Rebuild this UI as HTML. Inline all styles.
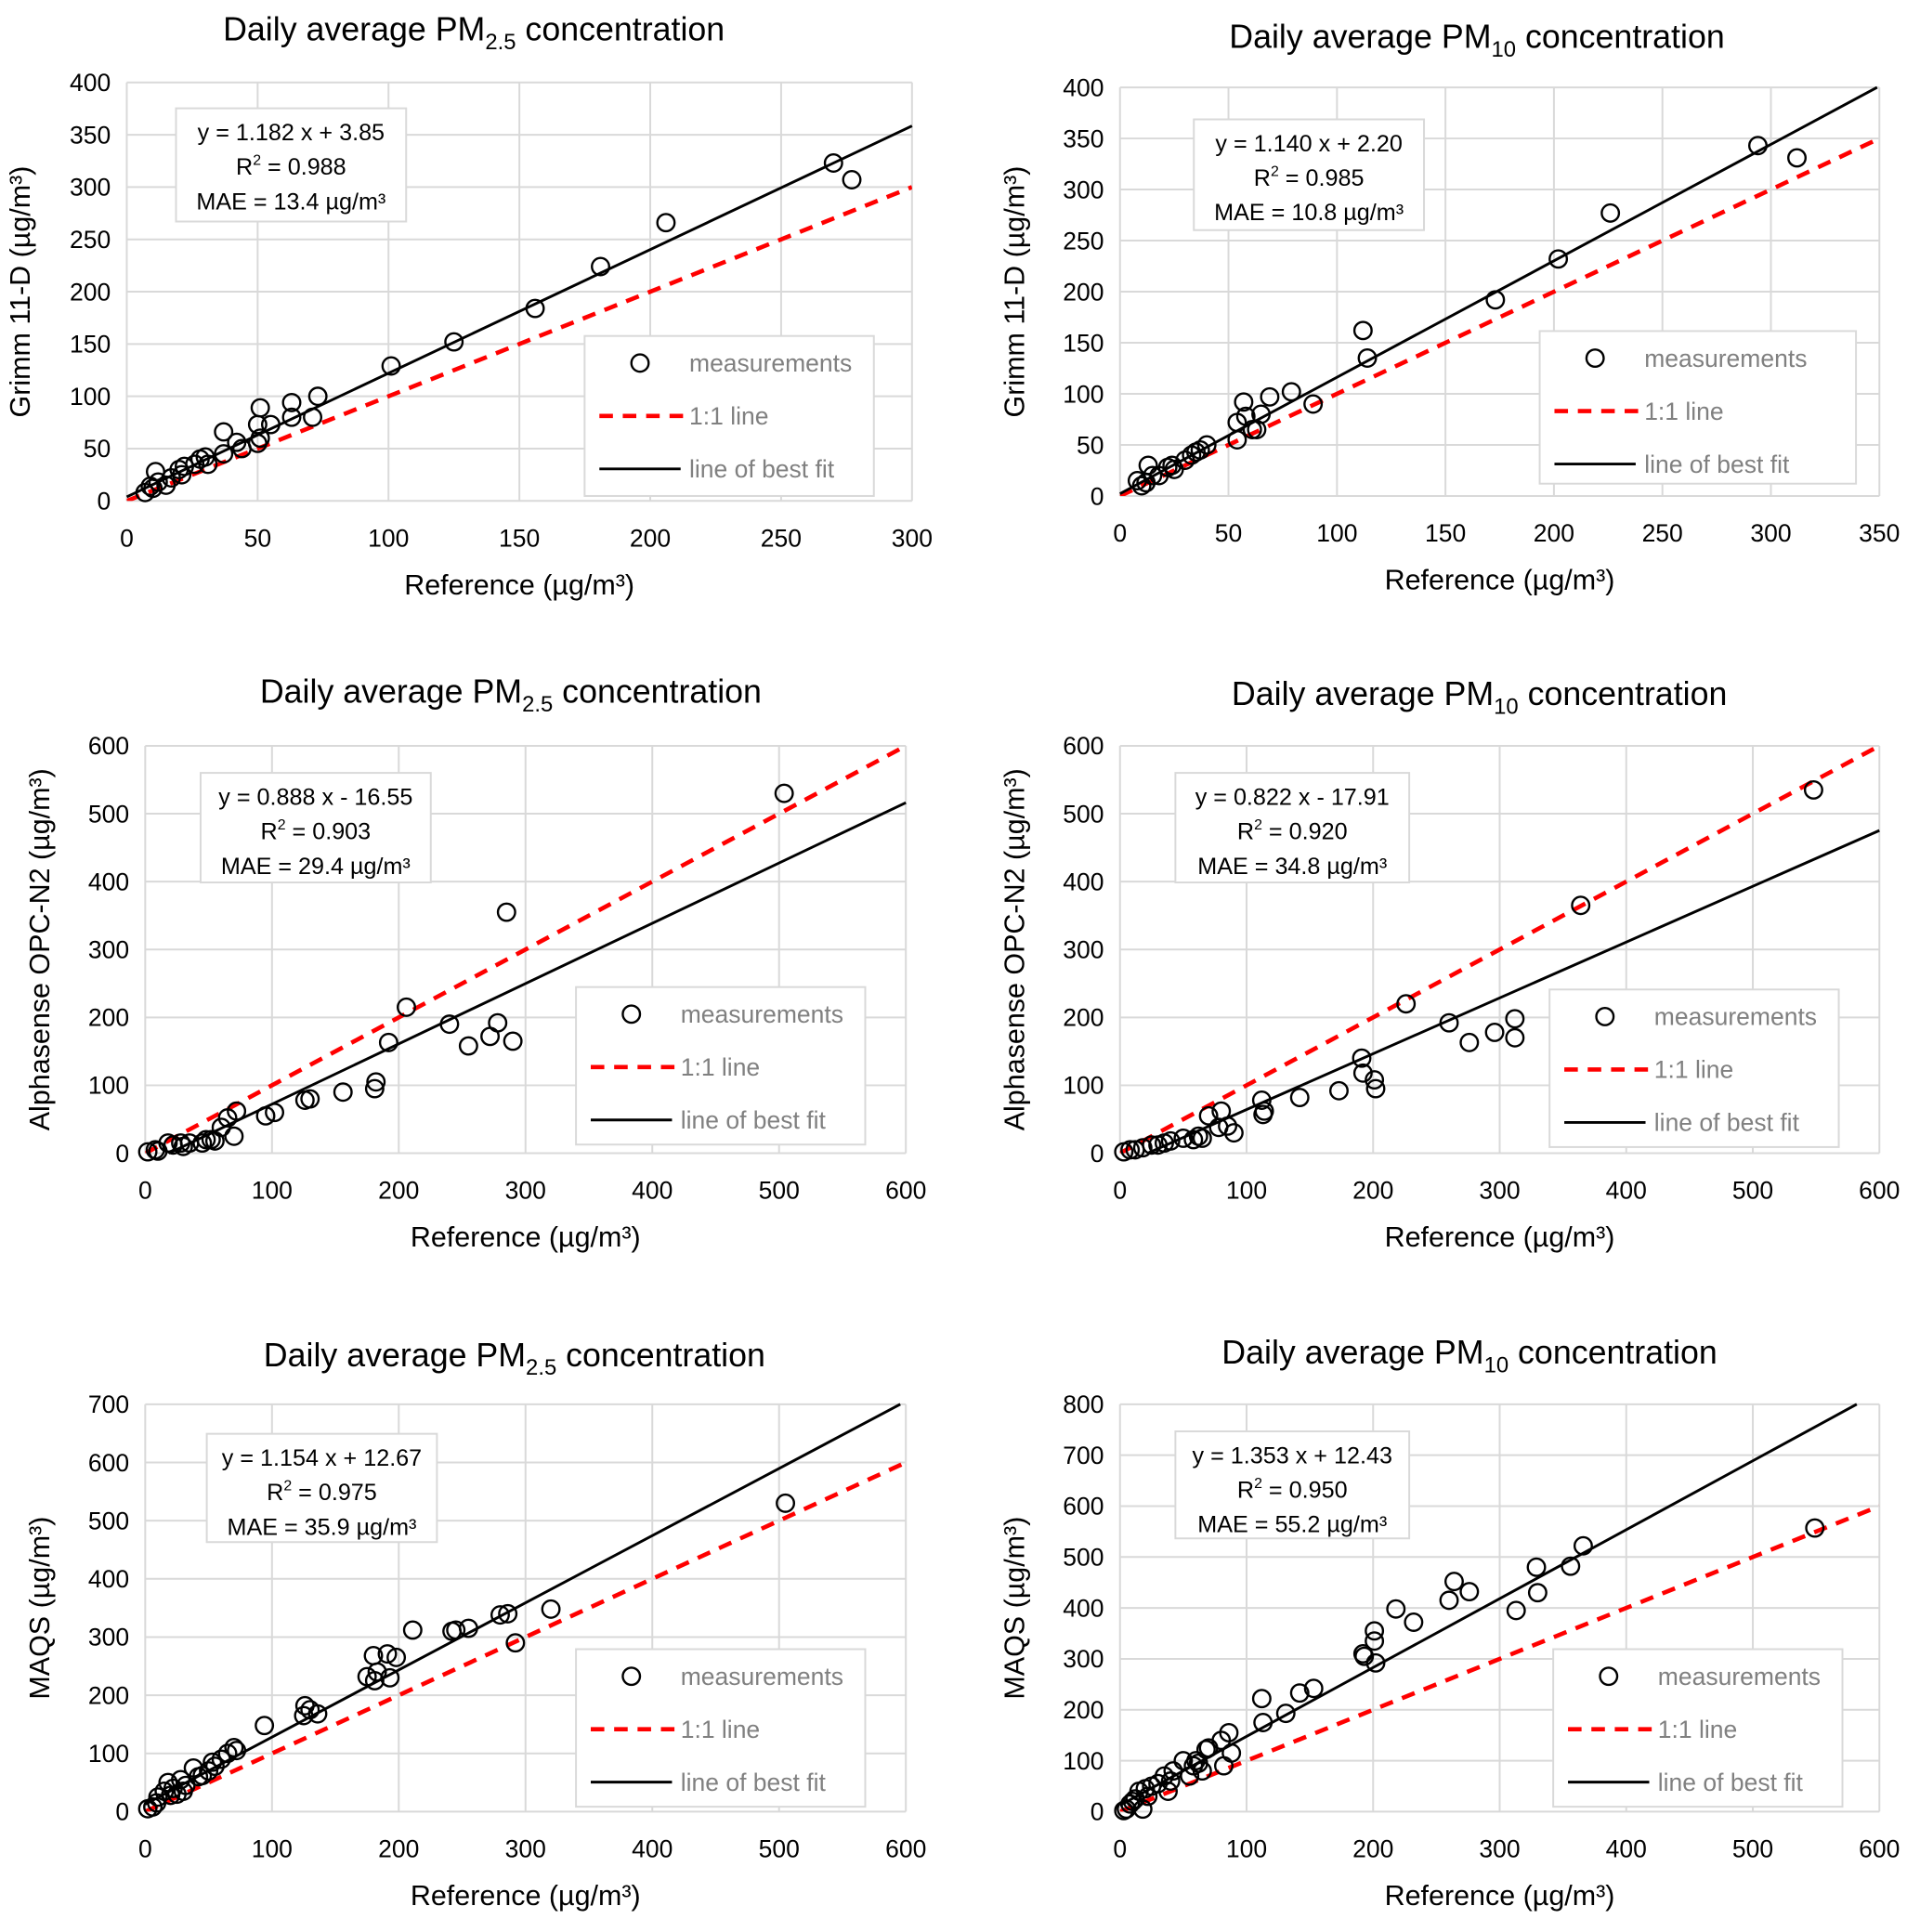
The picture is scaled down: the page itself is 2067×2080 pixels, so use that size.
<!DOCTYPE html>
<html><head><meta charset="utf-8"><style>
html,body{margin:0;padding:0;background:#fff}
svg{display:block}
text{font-family:"Liberation Sans",sans-serif}
</style></head><body>
<svg id="chart" width="2067" height="2080" viewBox="0 0 1560 1569.8" preserveAspectRatio="none" xmlns="http://www.w3.org/2000/svg"></svg>
<script>
const xTicks300 = [0,50,100,150,200,250,300];
const xTicks350 = [0,50,100,150,200,250,300,350];
const xTicks600 = [0,100,200,300,400,500,600];
const yTicks400 = [0,50,100,150,200,250,300,350,400];
const yTicks600 = [0,100,200,300,400,500,600];
const yTicks700 = [0,100,200,300,400,500,600,700];
const yTicks800 = [0,100,200,300,400,500,600,700,800];
const tlPoints = [[7,8],[9,14],[10,12],[11,28],[12,18],[15,15],[17,22],[20,30],[21,25],[22,33],[26,35],[28,40],[30,42],[31,35],[37,45],[37,66],[42,56],[44,50],[50,55],[50,73],[51,60],[51,89],[55,73],[63,80],[63,94],[71,80],[73,100],[101,129],[125,152],[156,184],[181,224],[206,266],[270,323],[277,307]];
const trPoints = [[8,15],[10,10],[12,13],[13,30],[15,20],[18,20],[22,28],[24,30],[25,26],[30,35],[33,40],[35,43],[37,45],[40,50],[54,55],[54,72],[57,92],[58,78],[61,65],[63,65],[65,80],[69,97],[79,102],[89,90],[112,162],[114,135],[173,192],[202,232],[226,277],[294,343],[312,331]];
const mlPoints = [[2,2],[8,5],[10,3],[18,15],[22,12],[28,15],[30,10],[35,15],[45,15],[48,20],[52,20],[55,18],[60,38],[65,52],[70,25],[72,62],[95,55],[102,60],[126,78],[130,80],[156,90],[181,95],[182,105],[192,163],[206,215],[240,190],[255,158],[272,172],[278,192],[290,165],[285,355],[504,530]];
const mrPoints = [[3,2],[8,5],[12,5],[18,8],[25,12],[30,12],[35,15],[40,18],[50,22],[58,20],[62,25],[65,22],[70,55],[78,38],[80,62],[85,40],[90,30],[112,78],[113,57],[114,62],[142,82],[173,92],[191,140],[192,118],[201,108],[202,95],[226,220],[260,192],[276,163],[296,178],[312,198],[312,170],[364,365],[548,535]];
const blPoints = [[2,5],[6,8],[9,15],[10,25],[15,35],[18,50],[20,28],[22,40],[25,30],[28,55],[30,35],[32,45],[38,75],[42,60],[45,62],[50,70],[53,85],[55,78],[60,90],[65,100],[70,110],[72,105],[94,148],[125,165],[126,182],[130,175],[136,168],[175,232],[180,268],[181,225],[183,240],[191,271],[193,230],[198,265],[211,312],[242,310],[245,312],[255,315],[280,338],[286,340],[292,290],[320,348],[505,530]];
const brPoints = [[3,2],[5,5],[8,15],[10,20],[12,25],[15,40],[18,5],[20,45],[22,30],[25,50],[30,55],[35,70],[38,40],[40,60],[42,80],[50,100],[55,70],[58,90],[60,100],[62,95],[65,80],[68,122],[70,125],[80,140],[82,90],[88,115],[86,155],[112,222],[113,175],[131,193],[142,233],[153,242],[192,310],[193,305],[201,335],[202,292],[201,355],[218,398],[232,372],[260,415],[264,452],[276,432],[313,395],[329,480],[330,430],[356,482],[366,522],[549,557]];
const slopes = [1.182,1.140,0.888,0.822,1.154,1.353];
const intercepts = [3.85,2.20,-16.55,-17.91,12.67,12.43];
const eqLabels = [["y = 1.182 x + 3.85","0.988","13.4"],["y = 1.140 x + 2.20","0.985","10.8"],["y = 0.888 x - 16.55","0.903","29.4"],["y = 0.822 x - 17.91","0.920","34.8"],["y = 1.154 x + 12.67","0.975","35.9"],["y = 1.353 x + 12.43","0.950","55.2"]];

const NS="http://www.w3.org/2000/svg";
const svg=document.getElementById('chart');
function mk(tag,attrs,parent){const e=document.createElementNS(NS,tag);for(const k in attrs)e.setAttribute(k,attrs[k]);(parent||svg).appendChild(e);return e;}

const panels=[
 {id:'tl',px:[103,741],py:[407,67],xt:xTicks300,yt:yTicks400,pts:tlPoints,sub:'2.5',tx:385,ty:24,ytitle:'Grimm 11-D (µg/m³)',ytx:24,leg:[475,273,235,130],eq:[143,88,187,92]},
 {id:'tr',px:[910,1527],py:[403,71],xt:xTicks350,yt:yTicks400,pts:trPoints,sub:'10',tx:1200,ty:30,ytitle:'Grimm 11-D (µg/m³)',ytx:832,leg:[1251,269,257,124],eq:[970,97,187,90]},
 {id:'ml',px:[118,736],py:[937,606],xt:xTicks600,yt:yTicks600,pts:mlPoints,sub:'2.5',tx:415,ty:562,ytitle:'Alphasense OPC-N2 (µg/m³)',ytx:40,leg:[468,802,235,128],eq:[163,628,187,89]},
 {id:'mr',px:[910,1527],py:[937,606],xt:xTicks600,yt:yTicks600,pts:mrPoints,sub:'10',tx:1202,ty:564,ytitle:'Alphasense OPC-N2 (µg/m³)',ytx:832,leg:[1259,804,235,128],eq:[955,628,190,89]},
 {id:'bl',px:[118,736],py:[1472,1141],xt:xTicks600,yt:yTicks700,pts:blPoints,sub:'2.5',tx:418,ty:1101,ytitle:'MAQS (µg/m³)',ytx:40,leg:[468,1340,235,128],eq:[168,1165,187,88]},
 {id:'br',px:[910,1527],py:[1472,1141],xt:xTicks600,yt:yTicks800,pts:brPoints,sub:'10',tx:1194,ty:1099,ytitle:'MAQS (µg/m³)',ytx:832,leg:[1262,1340,235,128],eq:[955,1163,190,87]}
];

panels.forEach((p,i)=>{
 const g=mk('g',{});
 
 
 const xmax=p.xt[p.xt.length-1], ymax=p.yt[p.yt.length-1];
 const X=v=>p.px[0]+(p.px[1]-p.px[0])*v/xmax;
 const Y=v=>p.py[0]+(p.py[1]-p.py[0])*v/ymax;
 p.xt.forEach(t=>{const l=mk('line',{x1:X(t),x2:X(t),y1:Y(0),y2:Y(ymax),stroke:'#d9d9d9','stroke-width':1.5},g);
  const tt=mk('text',{x:X(t),y:Y(0)+37,'text-anchor':'middle','font-size':20,fill:'#000'},g);tt.textContent=t;});
 p.yt.forEach(t=>{const l=mk('line',{x1:X(0),x2:X(xmax),y1:Y(t),y2:Y(t),stroke:'#d9d9d9','stroke-width':1.5},g);
  const tt=mk('text',{x:X(0)-13,y:Y(t)+7,'text-anchor':'end','font-size':20,fill:'#000'},g);tt.textContent=t;});
 const ti=mk('text',{x:p.tx,y:p.ty+9,'text-anchor':'middle','font-size':27,fill:'#000'},g);
 
 ti.innerHTML='Daily average PM<tspan font-size="18" dy="7">'+p.sub+'</tspan><tspan dy="-7"> concentration</tspan>';
 const xt=mk('text',{x:(X(0)+X(xmax))/2,y:Y(0)+76,'text-anchor':'middle','font-size':23,fill:'#000'},g);
 xt.textContent='Reference (µg/m³)';
 const yc=(Y(0)+Y(ymax))/2;
 const yt=mk('text',{x:p.ytx,y:yc,'text-anchor':'middle','font-size':23,fill:'#000',transform:'rotate(-90 '+p.ytx+' '+yc+')'},g);
 yt.textContent=p.ytitle;
 const cp=mk('clipPath',{id:'clip'+i},g);mk('rect',{x:X(0),y:Y(ymax),width:X(xmax)-X(0),height:Y(0)-Y(ymax)},cp);
 const m=Math.min(xmax,ymax);
 const one=mk('line',{x1:X(0),y1:Y(0),x2:X(m),y2:Y(m),stroke:'#ff0000','stroke-width':3.5,'stroke-dasharray':'11 8','clip-path':'url(#clip'+i+')'},g);
 
 const s=slopes[i],b=intercepts[i];
 let x0=Math.max(0,-b/s);let x1=Math.min(xmax,(ymax-b)/s);
 const fit=mk('line',{x1:X(x0),y1:Y(s*x0+b),x2:X(x1),y2:Y(s*x1+b),stroke:'#000','stroke-width':2.2},g);
 
 p.pts.forEach(d=>{const c=mk('circle',{cx:X(d[0]),cy:Y(d[1]),r:7,fill:'none',stroke:'#000','stroke-width':1.8},g);
  });
 const e=p.eq;
 const eb=mk('g',{},g);
 mk('rect',{x:e[0],y:e[1],width:e[2],height:e[3],fill:'#fff',stroke:'#d9d9d9','stroke-width':1.5},eb);
 const cx=e[0]+e[2]/2;
 const l1=mk('text',{x:cx,y:e[1]+26,'text-anchor':'middle','font-size':19},eb);l1.textContent=eqLabels[i][0];
 const l2=mk('text',{x:cx,y:e[1]+54,'text-anchor':'middle','font-size':19},eb);l2.innerHTML='R<tspan font-size="12" dy="-8">2</tspan><tspan dy="8"> = '+eqLabels[i][1]+'</tspan>';
 const l3=mk('text',{x:cx,y:e[1]+82,'text-anchor':'middle','font-size':19},eb);l3.textContent='MAE = '+eqLabels[i][2]+' µg/m³';
 const L=p.leg;
 const lg=mk('g',{},g);
 mk('rect',{x:L[0],y:L[1],width:L[2],height:L[3],fill:'#fff',stroke:'#d9d9d9','stroke-width':1.5},lg);
 const rows=[L[1]+22,L[1]+65,L[1]+108];
 const lab=['measurements','1:1 line','line of best fit'];
 const e1=mk('g',{},lg);
 mk('circle',{cx:L[0]+45,cy:rows[0],r:7,fill:'none',stroke:'#000','stroke-width':1.8},e1);
 const e2=mk('g',{},lg);
 mk('line',{x1:L[0]+12,x2:L[0]+80,y1:rows[1],y2:rows[1],stroke:'#ff0000','stroke-width':3.5,'stroke-dasharray':'11 8'},e2);
 const e3=mk('g',{},lg);
 mk('line',{x1:L[0]+12,x2:L[0]+78,y1:rows[2],y2:rows[2],stroke:'#000','stroke-width':2.2},e3);
 [e1,e2,e3].forEach((eg,k)=>{const t=mk('text',{x:L[0]+85,y:rows[k]+7,'font-size':20,fill:'#808080'},eg);t.textContent=lab[k];});
});
</script>
</body></html>
